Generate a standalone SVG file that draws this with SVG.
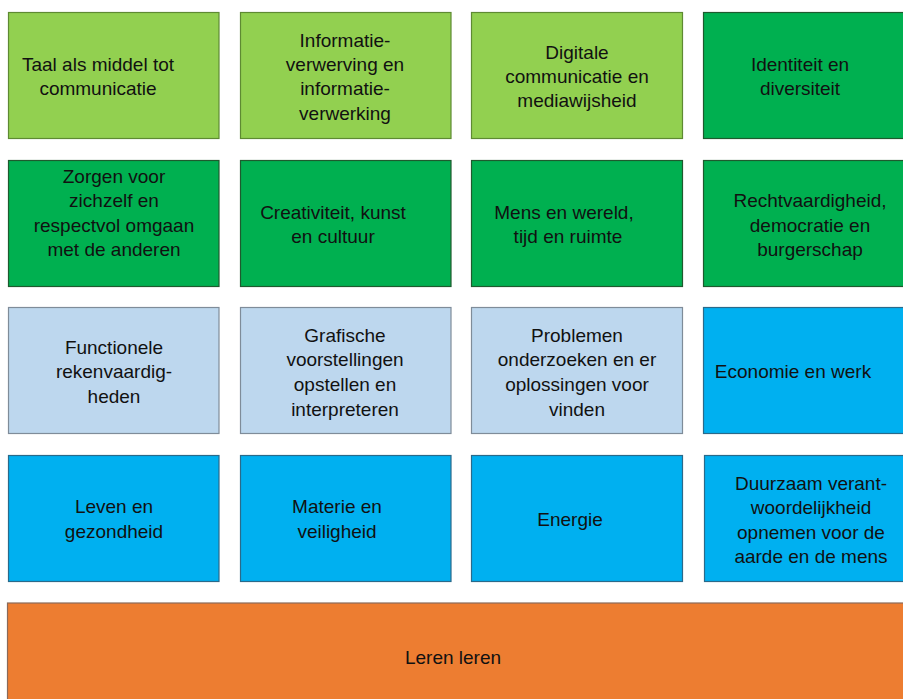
<svg xmlns="http://www.w3.org/2000/svg" width="903" height="699" viewBox="0 0 903 699">
<style>
rect{stroke-width:1.2}
.lg{fill:#92D050;stroke:#5E8A32}
.dg{fill:#00B050;stroke:#1E5A2E}
.lb{fill:#BDD7EE;stroke:#7F8C99}
.bl{fill:#00B0F0;stroke:#2A6A8A}
.or{fill:#ED7D31;stroke:#8A6A5A}
text{font-family:"Liberation Sans",Arial,sans-serif;font-size:19px;fill:#111;text-anchor:middle}
</style>
<rect width="903" height="699" fill="#fff" stroke="none"/>
<g id="n1"><rect class="lg" x="8.5" y="12.5" width="210.5" height="126"/><text x="98" y="71">Taal als middel tot</text><text x="98" y="95">communicatie</text></g>
<g id="n2"><rect class="lg" x="240.5" y="12.5" width="210.5" height="126"/><text x="345" y="47">Informatie-</text><text x="345" y="71">verwerving en</text><text x="345" y="95">informatie-</text><text x="345" y="120">verwerking</text></g>
<g id="n3"><rect class="lg" x="471.5" y="12.5" width="211" height="126"/><text x="577" y="59">Digitale</text><text x="577" y="83">communicatie en</text><text x="577" y="107">mediawijsheid</text></g>
<g id="n4"><rect class="dg" x="703.5" y="12.5" width="201" height="126"/><text x="800" y="71">Identiteit en</text><text x="800" y="95">diversiteit</text></g>
<g id="n5"><rect class="dg" x="8.5" y="160.5" width="210.5" height="126"/><text x="114" y="183">Zorgen voor</text><text x="114" y="207">zichzelf en</text><text x="114" y="232">respectvol omgaan</text><text x="114" y="256">met de anderen</text></g>
<g id="n6"><rect class="dg" x="240.5" y="160.5" width="210.5" height="126"/><text x="333" y="219">Creativiteit, kunst</text><text x="333" y="243">en cultuur</text></g>
<g id="n7"><rect class="dg" x="471.5" y="160.5" width="211" height="126"/><text x="564" y="219">Mens en wereld,</text><text x="568" y="243">tijd en ruimte</text></g>
<g id="n8"><rect class="dg" x="703.5" y="160.5" width="201" height="126"/><text x="810" y="207">Rechtvaardigheid,</text><text x="810" y="232">democratie en</text><text x="810" y="256">burgerschap</text></g>
<g id="n9"><rect class="lb" x="8.5" y="307.5" width="210.5" height="126"/><text x="114" y="354">Functionele</text><text x="114" y="378">rekenvaardig-</text><text x="114" y="403">heden</text></g>
<g id="n10"><rect class="lb" x="240.5" y="307.5" width="210.5" height="126"/><text x="345" y="342">Grafische</text><text x="345" y="366">voorstellingen</text><text x="345" y="391">opstellen en</text><text x="345" y="416">interpreteren</text></g>
<g id="n11"><rect class="lb" x="471.5" y="307.5" width="211" height="126"/><text x="577" y="342">Problemen</text><text x="577" y="366">onderzoeken en er</text><text x="577" y="391">oplossingen voor</text><text x="577" y="416">vinden</text></g>
<g id="n12"><rect class="bl" x="703.5" y="307.5" width="201" height="126"/><text x="793" y="378">Economie en werk</text></g>
<g id="n13"><rect class="bl" x="8.5" y="455.5" width="210.5" height="126"/><text x="114" y="513">Leven en</text><text x="114" y="538">gezondheid</text></g>
<g id="n14"><rect class="bl" x="240.5" y="455.5" width="210.5" height="126"/><text x="337" y="513">Materie en</text><text x="337" y="538">veiligheid</text></g>
<g id="n15"><rect class="bl" x="471.5" y="455.5" width="211" height="126"/><text x="570" y="526">Energie</text></g>
<g id="n16"><rect class="bl" x="704.5" y="455.5" width="200" height="126"/><text x="811" y="490">Duurzaam verant-</text><text x="811" y="514">woordelijkheid</text><text x="811" y="539">opnemen voor de</text><text x="811" y="563">aarde en de mens</text></g>
<g id="n17"><rect class="or" x="7.5" y="603" width="900" height="100"/><text x="453" y="664">Leren leren</text></g>
<g id="connectors"></g>
</svg>
